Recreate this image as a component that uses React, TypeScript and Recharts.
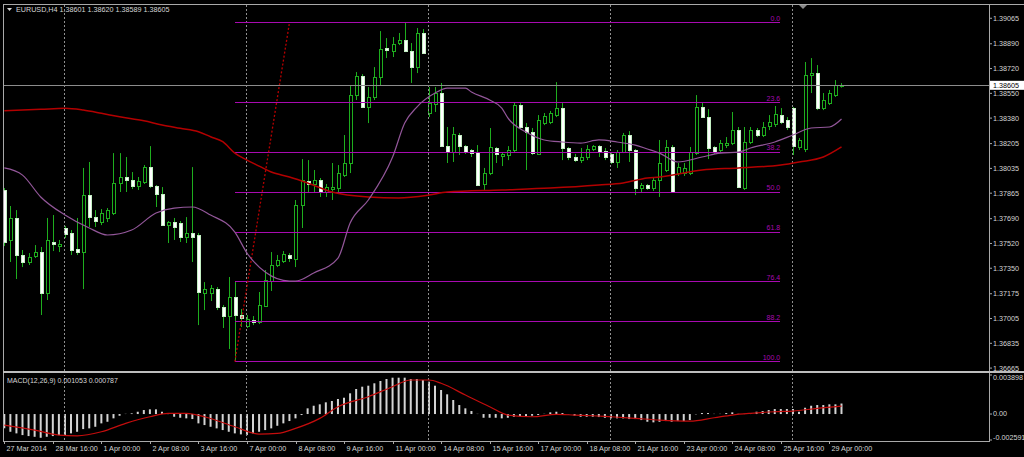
import { ComposedChart, Bar, Line, XAxis, YAxis, ReferenceLine } from 'recharts';

// EURUSD H4, bar 0 = 27 Mar 2014 08:00 ... bar 138 = 29 Apr 2014 08:00
const opens = [
  1.37887, 1.37544, 1.37695, 1.37441, 1.37393, 1.37434, 1.37461, 1.37180, 1.37530, 1.37502,
  1.37626, 1.37592, 1.37482, 1.37461, 1.37852, 1.37701, 1.37667, 1.37695, 1.37729, 1.37935,
  1.37976, 1.37955, 1.37914, 1.37941, 1.38044, 1.37914, 1.37859, 1.37646, 1.37667, 1.37660,
  1.37564, 1.37592, 1.37578, 1.37180, 1.37180, 1.37207, 1.37084, 1.37022, 1.37153, 1.37029,
  1.36954, 1.36995, 1.36981, 1.37091, 1.37262, 1.37372, 1.37400, 1.37441, 1.37413, 1.37784,
  1.37948, 1.37928, 1.37955, 1.37873, 1.37893, 1.37900, 1.37989, 1.38072, 1.38538, 1.38669,
  1.38456, 1.38525, 1.38662, 1.38861, 1.38840, 1.38895, 1.38916, 1.38840, 1.38730, 1.38964,
  1.38415, 1.38477, 1.38552, 1.38188, 1.38147, 1.38264, 1.38188, 1.38161, 1.38147, 1.37928,
  1.38003, 1.38175, 1.38120, 1.38127, 1.38161, 1.38470, 1.38319, 1.38284, 1.38134, 1.38346,
  1.38353, 1.38401, 1.38449, 1.38175, 1.38113, 1.38092, 1.38113, 1.38168, 1.38188, 1.38154,
  1.38134, 1.38079, 1.38147, 1.38264, 1.38161, 1.37900, 1.37921, 1.37900, 1.37955, 1.38024,
  1.38182, 1.38003, 1.38003, 1.38003, 1.38140, 1.38456, 1.38387, 1.38182, 1.38161, 1.38195,
  1.38209, 1.38298, 1.37900, 1.38216, 1.38298, 1.38264, 1.38326, 1.38339, 1.38401, 1.38367,
  1.38449, 1.38182, 1.38168, 1.38675, 1.38689, 1.38449, 1.38483, 1.38538, 1.38601,
];
const highs = [
  1.37900, 1.37777, 1.37749, 1.37475, 1.37454, 1.37509, 1.37496, 1.37695, 1.37715, 1.37544,
  1.37640, 1.37612, 1.37695, 1.38038, 1.38079, 1.37749, 1.37756, 1.37763, 1.38140, 1.38140,
  1.38113, 1.38010, 1.37976, 1.38058, 1.38188, 1.37921, 1.37907, 1.37674, 1.37695, 1.37674,
  1.37701, 1.38044, 1.37592, 1.37255, 1.37235, 1.37221, 1.37098, 1.37290, 1.37255, 1.37070,
  1.37029, 1.37022, 1.37187, 1.37338, 1.37461, 1.37441, 1.37468, 1.37454, 1.37818, 1.38099,
  1.38092, 1.38024, 1.37969, 1.37928, 1.38072, 1.38058, 1.38264, 1.38600, 1.38696, 1.38682,
  1.38593, 1.38730, 1.38977, 1.38929, 1.38936, 1.38964, 1.39039, 1.38895, 1.38998, 1.38991,
  1.38593, 1.38593, 1.38621, 1.38319, 1.38319, 1.38278, 1.38195, 1.38168, 1.38195, 1.38038,
  1.38312, 1.38182, 1.38147, 1.38188, 1.38490, 1.38483, 1.38346, 1.38312, 1.38401, 1.38415,
  1.38429, 1.38627, 1.38483, 1.38182, 1.38134, 1.38175, 1.38195, 1.38195, 1.38195, 1.38175,
  1.38140, 1.38161, 1.38278, 1.38291, 1.38168, 1.37935, 1.37928, 1.37969, 1.38230, 1.38230,
  1.38195, 1.38072, 1.38072, 1.38182, 1.38538, 1.38490, 1.38442, 1.38188, 1.38230, 1.38250,
  1.38422, 1.38319, 1.38319, 1.38319, 1.38312, 1.38353, 1.38401, 1.38463, 1.38449, 1.38387,
  1.38456, 1.38243, 1.38765, 1.38792, 1.38744, 1.38552, 1.38573, 1.38641, 1.38620,
];
const lows = [
  1.37502, 1.37393, 1.37276, 1.37358, 1.37372, 1.37420, 1.37029, 1.37132, 1.37468, 1.37461,
  1.37557, 1.37441, 1.37441, 1.37207, 1.37633, 1.37633, 1.37646, 1.37667, 1.37715, 1.37873,
  1.37873, 1.37893, 1.37887, 1.37928, 1.37900, 1.37770, 1.37640, 1.37523, 1.37544, 1.37530,
  1.37523, 1.37393, 1.36960, 1.37063, 1.37125, 1.37063, 1.36940, 1.36796, 1.36714, 1.36947,
  1.36940, 1.36960, 1.36967, 1.37084, 1.37194, 1.37358, 1.37386, 1.37393, 1.37358, 1.37626,
  1.37866, 1.37866, 1.37839, 1.37839, 1.37818, 1.37866, 1.37976, 1.38003, 1.38504, 1.38449,
  1.38346, 1.38504, 1.38607, 1.38792, 1.38799, 1.38881, 1.38833, 1.38621, 1.38689, 1.38820,
  1.38387, 1.38422, 1.38182, 1.38072, 1.38079, 1.38127, 1.38134, 1.38113, 1.37914, 1.37887,
  1.37989, 1.38072, 1.38051, 1.38092, 1.38147, 1.38305, 1.38024, 1.38127, 1.38127, 1.38332,
  1.38339, 1.38387, 1.38092, 1.38092, 1.38079, 1.38072, 1.38092, 1.38154, 1.38113, 1.38092,
  1.38065, 1.38038, 1.38140, 1.38079, 1.37852, 1.37873, 1.37887, 1.37880, 1.37839, 1.38010,
  1.37866, 1.37983, 1.37983, 1.37989, 1.38127, 1.38381, 1.38099, 1.38134, 1.38140, 1.38175,
  1.38195, 1.37900, 1.37887, 1.38202, 1.38250, 1.38250, 1.38298, 1.38319, 1.38339, 1.38298,
  1.38127, 1.38161, 1.38147, 1.38552, 1.38435, 1.38435, 1.38470, 1.38525, 1.38589,
];
const closes = [
  1.37530, 1.37695, 1.37441, 1.37393, 1.37427, 1.37461, 1.37180, 1.37544, 1.37516, 1.37516,
  1.37585, 1.37475, 1.37461, 1.37852, 1.37701, 1.37674, 1.37729, 1.37749, 1.37935, 1.37976,
  1.37955, 1.37914, 1.37948, 1.38044, 1.37914, 1.37859, 1.37646, 1.37667, 1.37633, 1.37564,
  1.37592, 1.37564, 1.37187, 1.37207, 1.37214, 1.37084, 1.37022, 1.37153, 1.37029, 1.37009,
  1.37002, 1.36981, 1.37098, 1.37269, 1.37372, 1.37406, 1.37448, 1.37420, 1.37784, 1.37955,
  1.37928, 1.37955, 1.37873, 1.37907, 1.37907, 1.38003, 1.38072, 1.38538, 1.38669, 1.38456,
  1.38525, 1.38662, 1.38854, 1.38847, 1.38888, 1.38916, 1.38840, 1.38730, 1.38964, 1.38826,
  1.38483, 1.38552, 1.38188, 1.38147, 1.38271, 1.38188, 1.38147, 1.38140, 1.37921, 1.38003,
  1.38182, 1.38134, 1.38134, 1.38161, 1.38470, 1.38319, 1.38284, 1.38140, 1.38367, 1.38394,
  1.38415, 1.38449, 1.38175, 1.38113, 1.38092, 1.38113, 1.38168, 1.38188, 1.38147, 1.38113,
  1.38079, 1.38147, 1.38264, 1.38161, 1.37900, 1.37921, 1.37900, 1.37955, 1.38072, 1.38182,
  1.37873, 1.38044, 1.38038, 1.38147, 1.38456, 1.38387, 1.38175, 1.38147, 1.38209, 1.38209,
  1.38298, 1.37907, 1.38216, 1.38298, 1.38264, 1.38319, 1.38353, 1.38408, 1.38353, 1.38319,
  1.38188, 1.38230, 1.38675, 1.38689, 1.38449, 1.38504, 1.38552, 1.38607, 1.38605,
];

// moving averages, read at [bar, price]
const maSlow = [
  [0, 1.38431], [6, 1.38440], [10, 1.38447], [13, 1.38435], [16, 1.38413], [19, 1.38389],
  [23, 1.38362], [26, 1.38333], [29, 1.38310], [32, 1.38287], [34, 1.38252], [36, 1.38218],
  [38, 1.38140], [40, 1.38092], [42, 1.38051], [44, 1.38010], [47, 1.37976], [50, 1.37935],
  [54, 1.37873], [60, 1.37839], [65, 1.37832], [70, 1.37852], [73, 1.37873], [82, 1.37887],
  [90, 1.37900], [98, 1.37921], [102, 1.37935], [106, 1.37969], [108, 1.37976], [115, 1.38024],
  [121, 1.38038], [128, 1.38058], [131, 1.38079], [135, 1.38113], [138, 1.38182],
];
const maFast = [
  [0, 1.38038], [3, 1.37989], [6, 1.37839], [10, 1.37715], [14, 1.37626], [17, 1.37578],
  [21, 1.37612], [25, 1.37729], [28, 1.37763], [31, 1.37770], [34, 1.37715], [38, 1.37598],
  [40, 1.37454], [43, 1.37324], [47, 1.37262], [48, 1.37262], [51, 1.37317], [55, 1.37420],
  [57, 1.37660], [60, 1.37818], [64, 1.38113], [66, 1.38346], [68, 1.38456], [71, 1.38552],
  [73, 1.38586], [76, 1.38586], [77, 1.38559], [80, 1.38504], [82, 1.38449], [83, 1.38381],
  [86, 1.38284], [89, 1.38230], [92, 1.38216], [95, 1.38209], [98, 1.38230], [101, 1.38216],
  [104, 1.38195], [106, 1.38168], [108, 1.38140], [111, 1.38079], [115, 1.38113], [118, 1.38140],
  [121, 1.38147], [123, 1.38175], [127, 1.38216], [130, 1.38264], [133, 1.38312], [136, 1.38319],
  [138, 1.38374],
];

// MACD(12,26,9)
const macdHist = [
  -0.00143, -0.00177, -0.00193, -0.00210, -0.00220, -0.00227, -0.00237, -0.00227, -0.00220, -0.00210,
  -0.00217, -0.00193, -0.00177, -0.00150, -0.00143, -0.00127, -0.00093, -0.00077, -0.00043, -0.00017,
  0.00002, 0.00007, 0.00023, 0.00040, 0.00047, 0.00047, 0.00023, -0.00001, -0.00027, -0.00037,
  -0.00043, -0.00050, -0.00093, -0.00110, -0.00127, -0.00143, -0.00160, -0.00177, -0.00193, -0.00203,
  -0.00210, -0.00193, -0.00177, -0.00160, -0.00143, -0.00117, -0.00093, -0.00070, -0.00043, -0.00010,
  0.00057, 0.00083, 0.00097, 0.00117, 0.00130, 0.00150, 0.00163, 0.00207, 0.00250, 0.00273,
  0.00283, 0.00307, 0.00330, 0.00350, 0.00363, 0.00363, 0.00363, 0.00350, 0.00350, 0.00340,
  0.00323, 0.00283, 0.00240, 0.00197, 0.00140, 0.00090, 0.00057, 0.00030, 0.00002, -0.00037,
  -0.00037, -0.00037, -0.00043, -0.00037, -0.00027, -0.00020, -0.00020, -0.00017, -0.00010, 0.00002,
  0.00017, 0.00023, 0.00010, -0.00002, -0.00017, -0.00027, -0.00027, -0.00027, -0.00030, -0.00037,
  -0.00043, -0.00043, -0.00043, -0.00050, -0.00050, -0.00060, -0.00077, -0.00083, -0.00077, -0.00070,
  -0.00077, -0.00070, -0.00070, -0.00060, -0.00003, 0.00010, 0.00010, 0.00002, 0.00002, 0.00010,
  0.00017, 0.00002, 0.00002, 0.00010, 0.00023, 0.00030, 0.00040, 0.00050, 0.00050, 0.00050,
  0.00050, 0.00023, 0.00063, 0.00083, 0.00090, 0.00090, 0.00097, 0.00097, 0.00105,
];
const macdSignal = [
  [0, -0.00110], [5, -0.00160], [9, -0.00210], [12, -0.00217], [16, -0.00177], [20, -0.00093],
  [24, -0.00027], [27, 0.00007], [30, 0.00007], [33, -0.00027], [38, -0.00127], [42, -0.00200],
  [45, -0.00193], [48, -0.00143], [52, -0.00043], [55, 0.00073], [60, 0.00173], [64, 0.00273],
  [67, 0.00340], [70, 0.00340], [72, 0.00307], [76, 0.00190], [80, 0.00073], [83, -0.00010],
  [87, -0.00027], [91, -0.00003], [94, -0.00010], [97, -0.00017], [100, -0.00027], [104, -0.00043],
  [108, -0.00060], [113, -0.00070], [117, -0.00037], [120, -0.00010], [123, 0.00007], [127, 0.00023],
  [130, 0.00030], [134, 0.00057], [138, 0.00079],
];

const priceTicks = [
  1.39065, 1.3889, 1.3872, 1.3855, 1.3838, 1.38205, 1.38035, 1.37865,
  1.3769, 1.3752, 1.3735, 1.37175, 1.37005, 1.36835, 1.36665,
];
const macdTicks = [0.003898, 0, -0.002591];
const macdTickLabels = ['0.003898', '0.00', '-0.002591'];
const dateTicks = [0, 8, 16, 24, 32, 40, 48, 56, 64, 72, 80, 88, 96, 104, 112, 120, 128, 136];
const dateLabels = [
  '27 Mar 2014', '28 Mar 16:00', '1 Apr 00:00', '2 Apr 08:00', '3 Apr 16:00', '7 Apr 00:00',
  '8 Apr 08:00', '9 Apr 16:00', '11 Apr 00:00', '14 Apr 08:00', '15 Apr 16:00', '17 Apr 00:00',
  '18 Apr 08:00', '21 Apr 16:00', '23 Apr 00:00', '24 Apr 08:00', '25 Apr 16:00', '29 Apr 00:00',
];
const mondays = [10, 40, 70, 100, 130];

// fibo retracement object
const fibLow = 1.36709;
const fibHigh = 1.39034;
const fibFromBar = 38;
const fibToBar = 47;
const fibEndBar = 127.9;
const fibLevels = [0, 23.6, 38.2, 50, 61.8, 76.4, 88.2, 100];

const lastPrice = 1.38605;
const titleText = 'EURUSD,H4  1.38601 1.38620 1.38589 1.38605';
const macdTitle = 'MACD(12,26,9) 0.001053 0.000787';

const xDomain = [-0.054, 162.31];
const priceDomain = [1.36645, 1.39156];
const macdDomain = [-0.002591, 0.003898];

const FONT = '"Liberation Sans", Arial, sans-serif';
const TEXT = '#d6d6d6';
const FRAME = '#a9a9a9';
const GRID = '#8f8f8f';
const WICK = '#1eae1e';
const BEAR_EDGE = '#c4f0c4';
const FIB = '#a80ab0';

const slowMap = new Map(maSlow.map(([i, v]) => [i, v]));
const fastMap = new Map(maFast.map(([i, v]) => [i, v]));
const signalMap = new Map(macdSignal.map(([i, v]) => [i, v]));

const data = opens.map((open, i) => ({
  i,
  range: [lows[i], highs[i]],
  open,
  close: closes[i],
  hist: macdHist[i],
  slow: slowMap.get(i),
  fast: fastMap.get(i),
  signal: signalMap.get(i),
}));

function Candle(props: any) {
  const { x, y, width, height, payload } = props;
  if (!payload || x == null || y == null) return null;
  const [low, high] = payload.range;
  const top = Math.min(y, y + height);
  const span = Math.abs(height);
  const k = high > low ? span / (high - low) : 0;
  const yOpen = top + (high - payload.open) * k;
  const yClose = top + (high - payload.close) * k;
  const cx = Math.floor(x + width / 2) + 0.5;
  const bull = payload.close >= payload.open;
  const bodyTop = Math.round(Math.min(yOpen, yClose)) + 0.5;
  const bodyH = Math.max(Math.round(Math.abs(yClose - yOpen)), 1);
  return (
    <g>
      <line x1={cx} x2={cx} y1={top} y2={top + span} stroke={WICK} strokeWidth={1} />
      <rect
        x={cx - 1}
        y={bodyTop}
        width={3}
        height={bodyH}
        fill={bull ? '#000' : '#fff'}
        stroke={bull ? WICK : BEAR_EDGE}
        strokeWidth={1}
      />
    </g>
  );
}

function DateTick(props: any) {
  const { x, y, payload } = props;
  const idx = dateTicks.indexOf(payload.value);
  if (idx < 0) return null;
  const px = Math.round(x) + 0.5;
  return (
    <g>
      <line x1={px} x2={px} y1={y + 1} y2={y + 4} stroke={FRAME} />
      <text x={px + 2} y={y + 11} fill={TEXT} fontSize={7.2} fontFamily={FONT}>
        {dateLabels[idx]}
      </text>
    </g>
  );
}

function MacdTick(props: any) {
  const { x, y, payload } = props;
  const idx = macdTicks.indexOf(payload.value);
  const v = payload.value;
  const shift = v > 0 ? 4.5 : v < 0 ? -0.5 : 1.5;
  return (
    <text x={x} y={y + shift} fill={TEXT} fontSize={7.2} fontFamily={FONT}>
      {macdTickLabels[idx]}
    </text>
  );
}

export default function App() {
  return (
    <div
      style={{
        position: 'fixed', left: 0, top: 0, width: 1024, height: 457,
        background: '#000', overflow: 'hidden',
      }}
    >
      <div style={{ position: 'absolute', left: 0, top: 0 }}>
        <ComposedChart width={1024} height={372} data={data} margin={{ top: 5, right: 0, bottom: 1, left: 4 }}>
          <XAxis dataKey="i" type="number" domain={xDomain} allowDataOverflow hide />
          <YAxis
            orientation="right"
            width={35}
            type="number"
            domain={priceDomain}
            allowDataOverflow
            ticks={priceTicks}
            interval={0}
            tickSize={3}
            tickMargin={1}
            axisLine={false}
            tickLine={{ stroke: FRAME }}
            tick={{ fill: TEXT, fontSize: 7.2, fontFamily: FONT }}
            tickFormatter={(v: number) => v.toFixed(5)}
          />
          {mondays.map((m) => (
            <ReferenceLine key={'g' + m} x={m} stroke={GRID} strokeDasharray="2 2" shapeRendering="crispEdges" />
          ))}
          {fibLevels.map((lvl) => {
            const price = fibHigh - (lvl / 100) * (fibHigh - fibLow);
            return (
              <ReferenceLine
                key={'f' + lvl}
                segment={[{ x: fibFromBar, y: price }, { x: fibEndBar, y: price }]}
                stroke={FIB}
                strokeWidth={1.4}
                shapeRendering="crispEdges"
                label={(p: any) =>
                  p.viewBox ? (
                    <text
                      x={p.viewBox.x + p.viewBox.width}
                      y={p.viewBox.y - 2}
                      textAnchor="end"
                      fill={FIB}
                      fontSize={7}
                      fontFamily={FONT}
                    >
                      {lvl.toFixed(1)}
                    </text>
                  ) : null
                }
              />
            );
          })}
          <ReferenceLine
            segment={[{ x: fibFromBar, y: fibLow }, { x: fibToBar, y: fibHigh }]}
            stroke="#b80000"
            strokeWidth={1.3}
            strokeDasharray="2 2"
          />
          <Bar dataKey="range" barSize={5} isAnimationActive={false} shape={(p: any) => <Candle {...p} />} />
          <Line dataKey="slow" type="monotone" stroke="#b30000" strokeWidth={1.5} dot={false} activeDot={false} connectNulls isAnimationActive={false} />
          <Line dataKey="fast" type="monotone" stroke="#93579a" strokeWidth={1.2} dot={false} activeDot={false} connectNulls isAnimationActive={false} />
          <ReferenceLine
            y={lastPrice}
            stroke="#8c8c8c"
            shapeRendering="crispEdges"
            label={(p: any) =>
              p.viewBox ? (
                <g>
                  <rect x={p.viewBox.x + p.viewBox.width + 1} y={p.viewBox.y - 4.5} width={34} height={9} fill="#fff" />
                  <text x={p.viewBox.x + p.viewBox.width + 4} y={p.viewBox.y + 2.6} fill="#000" fontSize={7.2} fontFamily={FONT}>
                    {lastPrice.toFixed(5)}
                  </text>
                </g>
              ) : null
            }
          />
        </ComposedChart>
      </div>

      <div style={{ position: 'absolute', left: 0, top: 373 }}>
        <ComposedChart width={1024} height={84} data={data} margin={{ top: 2, right: 0, bottom: 1, left: 4 }}>
          <XAxis
            dataKey="i"
            type="number"
            domain={xDomain}
            allowDataOverflow
            ticks={dateTicks}
            interval={0}
            height={16}
            tickSize={0}
            tickMargin={0}
            axisLine={false}
            tickLine={false}
            tick={(p: any) => <DateTick {...p} />}
          />
          <YAxis
            orientation="right"
            width={35}
            type="number"
            domain={macdDomain}
            allowDataOverflow
            ticks={macdTicks}
            interval={0}
            tickSize={3}
            tickMargin={1}
            axisLine={false}
            tickLine={{ stroke: FRAME }}
            tick={(p: any) => <MacdTick {...p} />}
          />
          {mondays.map((m) => (
            <ReferenceLine key={'m' + m} x={m} stroke={GRID} strokeDasharray="2 2" shapeRendering="crispEdges" />
          ))}
          <Bar dataKey="hist" barSize={2} fill="#d4d4d4" isAnimationActive={false} />
          <Line dataKey="signal" type="monotone" stroke="#c40d0d" strokeWidth={1.2} dot={false} activeDot={false} connectNulls isAnimationActive={false} />
        </ComposedChart>
      </div>

      <svg width={1024} height={457} style={{ position: 'absolute', left: 0, top: 0, pointerEvents: 'none' }}>
        <line x1={3} x2={1024} y1={4.5} y2={4.5} stroke={FRAME} />
        <line x1={3.5} x2={3.5} y1={4} y2={442} stroke={FRAME} />
        <line x1={989.5} x2={989.5} y1={4} y2={442} stroke={FRAME} />
        <rect x={3} y={371} width={1021} height={2} fill="#bdbdbd" />
        <line x1={3} x2={990} y1={441.5} y2={441.5} stroke={FRAME} />
        <polygon points="799,5 807,5 803,9" fill="#8a8a8a" />
        <polygon points="7,8 12,8 9.5,11" fill={TEXT} />
        <text x={16} y={12} fill={TEXT} fontSize={7.2} fontFamily={FONT}>{titleText}</text>
        <text x={7} y={382.5} fill={TEXT} fontSize={7} fontFamily={FONT}>{macdTitle}</text>
      </svg>
    </div>
  );
}
